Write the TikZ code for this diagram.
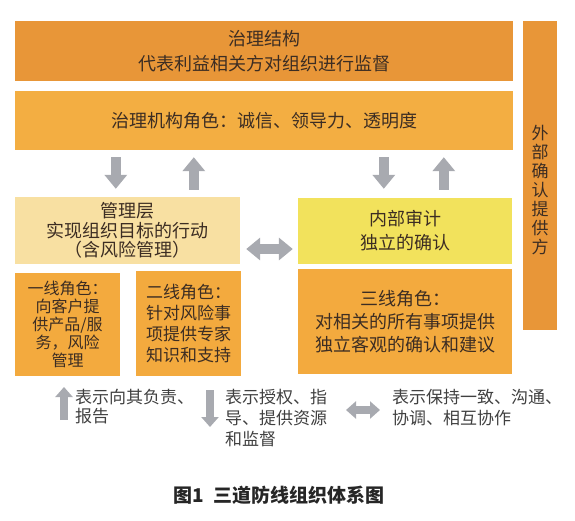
\documentclass[tikz,border=0pt]{standalone}
\usepackage{fontspec}
\setmainfont{Noto Sans CJK SC}
\usepackage{tikz}
\usetikzlibrary{arrows.meta}
\usepackage{xcolor}
\definecolor{govdark}{RGB}{232,150,56}
\definecolor{govlight}{RGB}{243,174,66}
\definecolor{mgmtfill}{RGB}{248,224,162}
\definecolor{auditfill}{RGB}{242,226,92}
\definecolor{linefill}{RGB}{243,170,62}
\definecolor{arrowgray}{RGB}{168,170,176}
\definecolor{inkbrown}{RGB}{60,45,35}

\begin{document}
\begin{tikzpicture}[
  x=1pt, y=-1pt,
  box/.style={inner sep=0pt, align=center, text=inkbrown},
  garrow/.style={draw=arrowgray, line width=10pt,
                 -{Triangle[width=22pt,length=14pt]}},
  gboth/.style={draw=arrowgray, line width=10pt,
                {Triangle[width=22pt,length=14pt]}-{Triangle[width=22pt,length=14pt]}},
  lgarrow/.style={draw=arrowgray, line width=8pt,
                  -{Triangle[width=17pt,length=10pt]}},
  lgboth/.style={draw=arrowgray, line width=8pt,
                 {Triangle[width=17pt,length=10pt]}-{Triangle[width=17pt,length=10pt]}},
  lgtext/.style={inner sep=0pt, anchor=north west, align=left, text=black!75},
]
  \useasboundingbox (0,0) rectangle (575,520);
  % ── Governing body rows ──
  \node[box, fill=govdark, minimum width=498pt, minimum height=60pt,
        font=\fontsize{18}{25}\selectfont] (gov) at (264,51)
    {治理结构\\代表利益相关方对组织进行监督};
  \node[box, fill=govlight, minimum width=498pt, minimum height=59pt,
        font=\fontsize{18}{22}\selectfont] (govrole) at (264,120.5)
    {治理机构角色：诚信、领导力、透明度};
  % ── External assurance bar ──
  \node[box, fill=govdark, minimum width=34pt, minimum height=309pt] (ext) at (540,175.5) {};
  \node[box, font=\fontsize{17}{19}\selectfont] (extlbl) at (540,190)
    {外\\部\\确\\认\\提\\供\\方};
  % ── Management and internal audit ──
  \node[box, fill=mgmtfill, minimum width=225pt, minimum height=67pt,
        font=\fontsize{18}{19.5}\selectfont] (mgmt) at (127.5,230.5)
    {管理层\\实现组织目标的行动\\（含风险管理）};
  \node[box, fill=auditfill, minimum width=214pt, minimum height=66pt,
        font=\fontsize{18}{24}\selectfont] (audit) at (405,231)
    {内部审计\\独立的确认};
  % ── Three lines ──
  \node[box, fill=linefill, minimum width=105pt, minimum height=103pt,
        font=\fontsize{16}{18}\selectfont] (line1) at (67.5,324.5)
    {一线角色：\\向客户提\\供产品/服\\务，风险\\管理};
  \node[box, fill=linefill, minimum width=105pt, minimum height=105pt,
        font=\fontsize{17}{21}\selectfont] (line2) at (188.5,323.5)
    {二线角色：\\针对风险事\\项提供专家\\知识和支持};
  \node[box, fill=linefill, minimum width=214pt, minimum height=105pt,
        font=\fontsize{18}{23}\selectfont] (line3) at (405,321.5)
    {三线角色：\\对相关的所有事项提供\\独立客观的确认和建议};
  % ── Arrows between rows ──
  \draw[garrow] ([xshift=101pt,yshift=-7pt]govrole.south west) -- ([xshift=101pt,yshift=8pt]mgmt.north west);
  \draw[garrow] ([xshift=179pt,yshift=7pt]mgmt.north west) -- ([xshift=179pt,yshift=-7pt]govrole.south west);
  \draw[garrow] ([xshift=369pt,yshift=-7pt]govrole.south west) -- ([xshift=86pt,yshift=9pt]audit.north west);
  \draw[garrow] ([xshift=146pt,yshift=8pt]audit.north west) -- ([xshift=429pt,yshift=-7pt]govrole.south west);
  \draw[gboth] ([xshift=6pt,yshift=-18.5pt]mgmt.east) -- ([xshift=-5pt,yshift=-18pt]audit.west);
  % ── Legend ──
  \node[lgtext, font=\fontsize{17}{19}\selectfont] (lg1) at (75,389)
    {表示向其负责、\\报告};
  \node[lgtext, font=\fontsize{17}{21}\selectfont] (lg2) at (225,389)
    {表示授权、指\\导、提供资源\\和监督};
  \node[lgtext, font=\fontsize{17}{21}\selectfont] (lg3) at (392,389)
    {表示保持一致、沟通、\\协调、相互协作};
  \draw[lgarrow] ([xshift=-11pt,yshift=-31pt]lg1.north west) -- ([xshift=-11pt,yshift=2pt]lg1.north west);
  \draw[lgarrow] ([xshift=-15pt,yshift=-1pt]lg2.north west) -- ([xshift=-15pt,yshift=-38pt]lg2.north west);
  \draw[lgboth] ([xshift=-46pt,yshift=-21pt]lg3.north west) -- ([xshift=-12pt,yshift=-21pt]lg3.north west);
  % ── Caption ──
  \node[inner sep=0pt, text=black!85, font=\fontsize{19}{19}\selectfont\bfseries] (cap) at (279,495)
    {图1\hspace{10pt}三道防线组织体系图};
\end{tikzpicture}
\end{document}
